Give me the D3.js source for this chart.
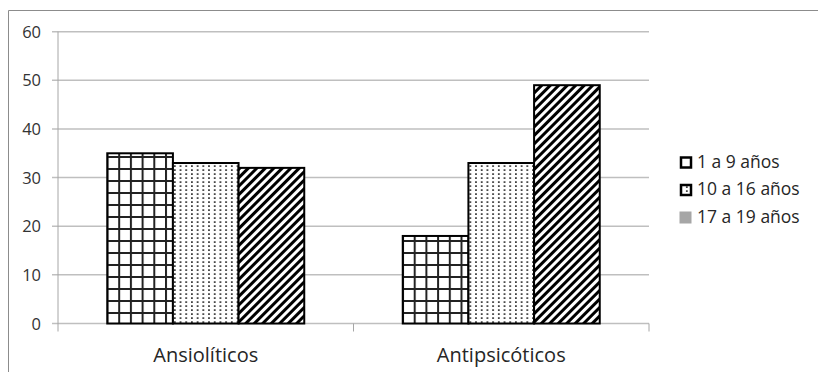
<!DOCTYPE html>
<html>
<head>
<meta charset="utf-8">
<style>
  body { margin: 0; background: #fff; }
  svg { display: block; font-family: "Open Sans", sans-serif; }
</style>
<script src="https://cdn.jsdelivr.net/npm/d3@7"></script>
</head>
<body>
<svg width="818" height="372"></svg>
<script>
var categories = ["Ansiolíticos", "Antipsicóticos"];
var seriesNames = ["1 a 9 años", "10 a 16 años", "17 a 19 años"];
var edad1a9 = [35, 18];
var edad10a16 = [33, 33];
var edad17a19 = [32, 49];
var yTicks = [0, 10, 20, 30, 40, 50, 60];

var seriesValues = [edad1a9, edad10a16, edad17a19];
var fills = ["url(#grid)", "url(#dots)", "url(#diag)"];

var svg = d3.select("svg");

// patterns
var defs = svg.append("defs");
var grid = defs.append("pattern").attr("id", "grid")
    .attr("patternUnits", "userSpaceOnUse")
    .attr("width", 11.7).attr("height", 12)
    .attr("x", 107).attr("y", 0);
grid.append("rect").attr("width", 11.7).attr("height", 12).attr("fill", "#fff");
grid.append("path").attr("d", "M1,0V12M0,1H11.7")
    .attr("stroke", "#222").attr("stroke-width", 2);

var dots = defs.append("pattern").attr("id", "dots")
    .attr("patternUnits", "userSpaceOnUse")
    .attr("width", 5.7).attr("height", 4);
dots.append("rect").attr("width", 5.7).attr("height", 4).attr("fill", "#fff");
dots.append("rect").attr("x", 2).attr("y", 1.3).attr("width", 1.6).attr("height", 1.6).attr("fill", "#111");

var diag = defs.append("pattern").attr("id", "diag")
    .attr("patternUnits", "userSpaceOnUse")
    .attr("width", 6).attr("height", 6)
    .attr("patternTransform", "rotate(45)");
diag.append("rect").attr("width", 6).attr("height", 6).attr("fill", "#fff");
diag.append("rect").attr("width", 3).attr("height", 6).attr("fill", "#000");

// outer frame
svg.append("path")
    .attr("d", "M8.5,380V10.5H830")
    .attr("fill", "none").attr("stroke", "#8c8c8c").attr("stroke-width", 1);

var x = d3.scaleBand().domain(categories).range([58, 649]).padding(0);
var xs = d3.scaleBand().domain(d3.range(seriesNames.length))
    .range([0, x.bandwidth()]).paddingInner(0).paddingOuter(0.75);
var y = d3.scaleLinear().domain([0, 60]).range([323.5, 31.7]);

// gridlines + y labels
svg.append("g").selectAll("line").data(yTicks).enter().append("line")
    .attr("x1", 52).attr("x2", 649)
    .attr("y1", function(d) { return y(d); }).attr("y2", function(d) { return y(d); })
    .attr("stroke", "#bfbfbf").attr("stroke-width", 1.5);

svg.append("g").selectAll("text").data(yTicks).enter().append("text")
    .attr("x", 41).attr("y", function(d) { return y(d) + 6; })
    .attr("text-anchor", "end").attr("font-size", 16.5).attr("fill", "#333")
    .text(function(d) { return d; });

// axis lines
svg.append("line").attr("x1", 58).attr("x2", 58).attr("y1", y(60)).attr("y2", 331.5)
    .attr("stroke", "#a6a6a6").attr("stroke-width", 1);
svg.append("g").selectAll("line").data(categories).enter().append("line")
    .attr("x1", function(d) { return x(d) + x.bandwidth(); })
    .attr("x2", function(d) { return x(d) + x.bandwidth(); })
    .attr("y1", y(0)).attr("y2", 331.5)
    .attr("stroke", "#a6a6a6").attr("stroke-width", 1);

// bars
var groups = svg.append("g").selectAll("g").data(categories).enter().append("g")
    .attr("transform", function(d) { return "translate(" + x(d) + ",0)"; });

groups.selectAll("rect").data(function(c, ci) {
      return seriesValues.map(function(vals, si) { return {s: si, v: vals[ci]}; });
    }).enter().append("rect")
    .attr("x", function(d) { return xs(d.s); })
    .attr("y", function(d) { return y(d.v); })
    .attr("width", xs.bandwidth())
    .attr("height", function(d) { return y(0) - y(d.v); })
    .attr("fill", function(d) { return fills[d.s]; })
    .attr("stroke", "#000").attr("stroke-width", 2);

// category labels
svg.append("g").selectAll("text").data(categories).enter().append("text")
    .attr("x", function(d) { return x(d) + x.bandwidth() / 2; })
    .attr("y", 362)
    .attr("text-anchor", "middle").attr("font-size", 20).attr("fill", "#262626")
    .text(function(d) { return d; });

// legend
var legend = svg.append("g").selectAll("g").data(seriesNames).enter().append("g")
    .attr("transform", function(d, i) { return "translate(0," + (157.5 + i * 27.5) + ")"; });

legend.append("rect")
    .attr("x", function(d, i) { return i < 2 ? 681 : 679.5; })
    .attr("y", function(d, i) { return i < 2 ? 0 : -1; })
    .attr("width", function(d, i) { return i < 2 ? 10 : 12; })
    .attr("height", function(d, i) { return i < 2 ? 10 : 12; })
    .attr("fill", function(d, i) { return ["#fff", "url(#dots)", "#a6a6a6"][i]; })
    .attr("stroke", function(d, i) { return i < 2 ? "#000" : "none"; })
    .attr("stroke-width", 2.5);

legend.append("text")
    .attr("x", 697).attr("y", 10)
    .attr("font-size", 17.5).attr("fill", "#262626")
    .text(function(d) { return d; });
</script>
</body>
</html>
